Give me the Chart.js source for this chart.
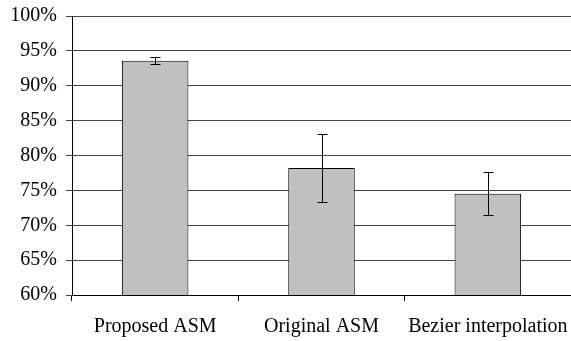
<!DOCTYPE html>
<html>
<head>
<meta charset="utf-8">
<script src="https://cdn.jsdelivr.net/npm/chart.js@4/dist/chart.umd.min.js"></script>
<style>
  html, body { margin: 0; padding: 0; background: #fff; }
  #wrap { width: 571px; height: 341px; }
</style>
</head>
<body>
<div id="wrap"><canvas id="grafico"></canvas></div>
<script>
// datos
const categorias = ["Proposed ASM", "Original ASM", "Bezier interpolation"];
const valores = [93.6, 78.2, 74.5];
const errores = [0.55, 4.9, 3.1];
const ticksY = [60, 65, 70, 75, 80, 85, 90, 95, 100];

// barras de error dibujadas con las escalas de Chart.js
const barrasError = {
  id: 'barrasError',
  afterDatasetsDraw(chart) {
    const ctx = chart.ctx;
    const meta = chart.getDatasetMeta(0);
    const y = chart.scales.y;
    ctx.save();
    ctx.strokeStyle = '#000';
    ctx.lineWidth = 1;
    meta.data.forEach((bar, i) => {
      const x = Math.round(bar.x) + 0.5;
      const arriba = Math.round(y.getPixelForValue(valores[i] + errores[i])) + 0.5;
      const abajo = Math.round(y.getPixelForValue(valores[i] - errores[i])) + 0.5;
      ctx.beginPath();
      ctx.moveTo(x, arriba);
      ctx.lineTo(x, abajo);
      ctx.moveTo(x - 5, arriba);
      ctx.lineTo(x + 5, arriba);
      ctx.moveTo(x - 5, abajo);
      ctx.lineTo(x + 5, abajo);
      ctx.stroke();
    });
    ctx.restore();
  }
};

const fuente = { family: "'Liberation Serif', 'Times New Roman', serif", size: 20 };

new Chart(document.getElementById('grafico').getContext('2d'), {
  type: 'bar',
  data: {
    labels: categorias,
    datasets: [{
      data: valores,
      backgroundColor: '#c0c0c0',
      borderColor: '#000',
      borderWidth: 1,
      barPercentage: 0.4,
      categoryPercentage: 1
    }]
  },
  options: {
    responsive: true,
    maintainAspectRatio: false,
    animation: false,
    layout: { padding: { top: 16, right: 0, left: 0, bottom: 0 } },
    plugins: { legend: { display: false }, tooltip: { enabled: false } },
    scales: {
      x: {
        grid: { drawOnChartArea: false, drawTicks: true, tickLength: 6, color: '#000', offset: true },
        border: { color: '#000', width: 1 },
        ticks: { color: '#000', font: fuente, padding: 14, maxRotation: 0 },
        afterFit(scale) {
          scale.height = 46;
          scale.paddingLeft = 0;
          scale.paddingRight = 0;
        }
      },
      y: {
        min: 60,
        max: 100,
        afterBuildTicks(scale) { scale.ticks = ticksY.map(v => ({ value: v })); },
        grid: { color: '#444', tickLength: 6, drawTicks: true },
        border: { color: '#000', width: 1 },
        ticks: { color: '#000', font: fuente, padding: 9, callback: v => v + '%' },
        afterFit(scale) {
          scale.width = 72;
          scale.paddingTop = 0;
          scale.paddingBottom = 0;
        }
      }
    }
  },
  plugins: [barrasError]
});
</script>
</body>
</html>
